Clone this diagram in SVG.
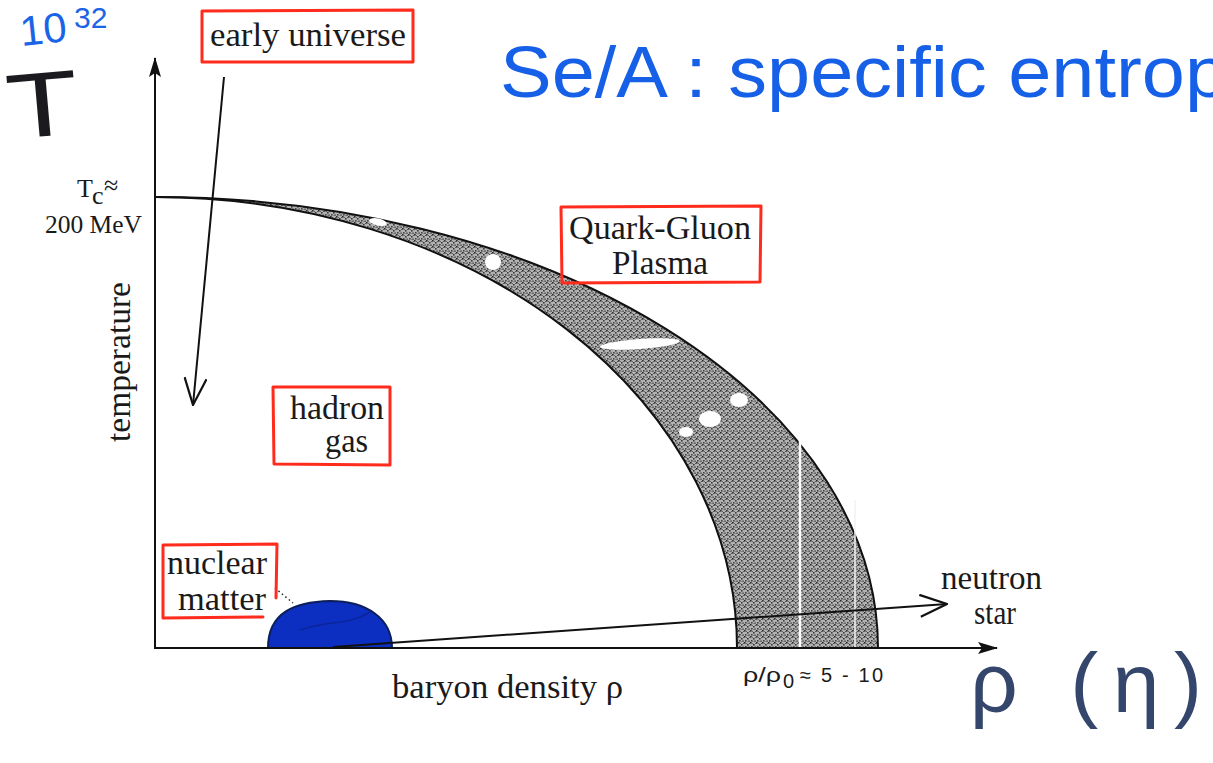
<svg xmlns="http://www.w3.org/2000/svg" width="1213" height="763" viewBox="0 0 1213 763">
<style>
.lbl{font-family:"Liberation Serif","Times New Roman",serif;font-size:33px;fill:#1a1a1a}
.small{font-family:"Liberation Serif","Times New Roman",serif;font-size:26px;fill:#1a1a1a}
.sans{font-family:"Liberation Sans",Arial,sans-serif;font-size:20px;fill:#1a1a1a}
.box{fill:none;stroke:#ff2b1c;stroke-width:3;stroke-linejoin:round;stroke-linecap:round}
.ax{stroke:#111;stroke-width:2;fill:none}
.hand{font-family:"Liberation Sans",Arial,sans-serif}
</style>
<defs>
<pattern id="stip" width="6" height="6" patternUnits="userSpaceOnUse">
<rect width="6" height="6" fill="#b2b2b2"/>
<rect x="0" y="0" width="1.6" height="1.6" fill="#2a2a2a"/>
<rect x="3" y="2" width="1.6" height="1.6" fill="#3a3a3a"/>
<rect x="1" y="4" width="1.6" height="1.6" fill="#444"/>
<rect x="4.5" y="4.5" width="1.2" height="1.2" fill="#222"/>
<rect x="2" y="1" width="1" height="1" fill="#666"/>
<rect x="5" y="1" width="1" height="1" fill="#555"/>
<rect x="3.5" y="5" width="1" height="1" fill="#5a5a5a"/>
</pattern>
<marker id="tri" viewBox="0 0 20 12" refX="19" refY="6" markerWidth="20" markerHeight="12" markerUnits="userSpaceOnUse" orient="auto">
<path d="M0,0 L20,6 L0,12 L4,6 Z" fill="#111"/>
</marker>
<marker id="vee" viewBox="0 0 30 24" refX="29" refY="12" markerWidth="30" markerHeight="24" markerUnits="userSpaceOnUse" orient="auto">
<path d="M2,1 L29,12 L2,23" fill="none" stroke="#111" stroke-width="2.2"/>
</marker>
</defs>

<rect width="1213" height="763" fill="#ffffff"/>

<!-- handwritten annotations -->
<g id="handwriting">
<text class="hand" x="20" y="44" font-size="42" fill="#1c64e6" transform="rotate(-6 40 30)">10</text>
<text class="hand" x="74" y="28" font-size="30" fill="#1c64e6">32</text>
<text class="hand" x="6" y="136" font-size="92" fill="#1b1b1f" textLength="72" lengthAdjust="spacingAndGlyphs" transform="rotate(-5 45 100)">T</text>
<text class="hand" x="500" y="97" font-size="72" fill="#1660e8" textLength="728" lengthAdjust="spacingAndGlyphs">Se/A : specific entrop</text>
<text class="hand" x="970" y="712" font-size="84" fill="#34466c" textLength="232" lengthAdjust="spacing">ρ (η)</text>
</g>

<!-- phase band -->
<g id="phase-boundary">
<path d="M155,197 A723,451 0 0 1 878,648 L737,648 A582,451 0 0 0 155,197 Z" fill="url(#stip)"/>
<path d="M155,197 A723,451 0 0 1 878,648" class="ax"/>
<path d="M737,648 A582,451 0 0 0 155,197" class="ax"/>
<ellipse cx="378" cy="222" rx="9" ry="3.5" fill="#fff" transform="rotate(12 378 222)"/>
<circle cx="493" cy="262" r="8" fill="#fff"/>
<ellipse cx="640" cy="344" rx="40" ry="5" fill="#fff" transform="rotate(-4 640 344)"/>
<ellipse cx="739" cy="400" rx="9" ry="7" fill="#fff"/>
<ellipse cx="710" cy="419" rx="11" ry="8" fill="#fff"/>
<ellipse cx="686" cy="432" rx="7" ry="5" fill="#fff"/>
<line x1="800" y1="440" x2="800" y2="647" stroke="#fff" stroke-width="2.5"/>
<line x1="855" y1="500" x2="855" y2="647" stroke="#f2f2f2" stroke-width="1.5"/>
</g>

<!-- nuclear matter blob -->
<g id="nuclear-blob">
<path d="M268,648 C268,612 295,602 330,601 C366,601 392,618 392,648 Z" fill="#0c2fc2" stroke="#0d1f5a" stroke-width="2"/>
<path d="M300,630 C330,620 350,625 370,612" fill="none" stroke="#0a2599" stroke-width="1.5"/>
</g>

<!-- axes and connectors -->
<g id="connectors">
<line x1="155" y1="648" x2="155" y2="58" class="ax" marker-end="url(#tri)"/>
<line x1="154" y1="648" x2="997" y2="648" class="ax" marker-end="url(#tri)"/>
<line x1="224" y1="77" x2="193" y2="405" class="ax" marker-end="url(#vee)"/>
<line x1="333" y1="647" x2="947" y2="604" class="ax" marker-end="url(#vee)"/>
<line x1="275" y1="588" x2="293" y2="603" stroke="#222" stroke-width="1.5" stroke-dasharray="1.5 3"/>
</g>

<!-- labels -->
<g id="early-universe">
<path class="box" d="M202,11 L413,10 L413,62 L202,62 Z"/>
<text class="lbl" x="210" y="46" textLength="196" lengthAdjust="spacingAndGlyphs">early universe</text>
</g>
<g id="qgp">
<path class="box" d="M561,207 L761,206 L760,282 L562,283 Z"/>
<text class="lbl" x="569" y="239" textLength="182" lengthAdjust="spacingAndGlyphs">Quark-Gluon</text>
<text class="lbl" x="612" y="274" textLength="96" lengthAdjust="spacingAndGlyphs">Plasma</text>
</g>
<g id="hadron-gas">
<path class="box" d="M273,387 L390,387 L390,465 L274,464 Z"/>
<text class="lbl" x="290" y="419" textLength="94" lengthAdjust="spacingAndGlyphs">hadron</text>
<text class="lbl" x="325" y="452" textLength="43" lengthAdjust="spacingAndGlyphs">gas</text>
</g>
<g id="nuclear-matter">
<path class="box" d="M276,598 L277,544 L163,545 L163,618 L263,617"/>
<text class="lbl" x="167" y="574" textLength="100" lengthAdjust="spacingAndGlyphs">nuclear</text>
<text class="lbl" x="178" y="610" textLength="88" lengthAdjust="spacingAndGlyphs">matter</text>
</g>
<g id="neutron-star">
<text class="lbl" x="941" y="589" textLength="101" lengthAdjust="spacingAndGlyphs">neutron</text>
<text class="lbl" x="974" y="624" textLength="42" lengthAdjust="spacingAndGlyphs">star</text>
</g>
<g id="axis-labels">
<text class="lbl" x="392" y="698" textLength="231" lengthAdjust="spacingAndGlyphs">baryon density ρ</text>
<text class="lbl" transform="translate(130 442) rotate(-90)" x="0" y="0" textLength="160" lengthAdjust="spacingAndGlyphs">temperature</text>
<text class="small" x="77" y="197" font-size="24">T</text>
<text class="small" x="92" y="204" font-size="17">c</text>
<text class="small" x="104" y="194" font-size="17">≈</text>
<text class="small" x="45" y="233" textLength="97" lengthAdjust="spacingAndGlyphs">200 MeV</text>
<text class="sans" x="743" y="682" textLength="38" lengthAdjust="spacingAndGlyphs">ρ/ρ</text>
<text class="sans" x="783" y="688">0</text>
<text class="sans" x="800" y="682" textLength="83" lengthAdjust="spacing">≈ 5 - 10</text>
</g>
</svg>
